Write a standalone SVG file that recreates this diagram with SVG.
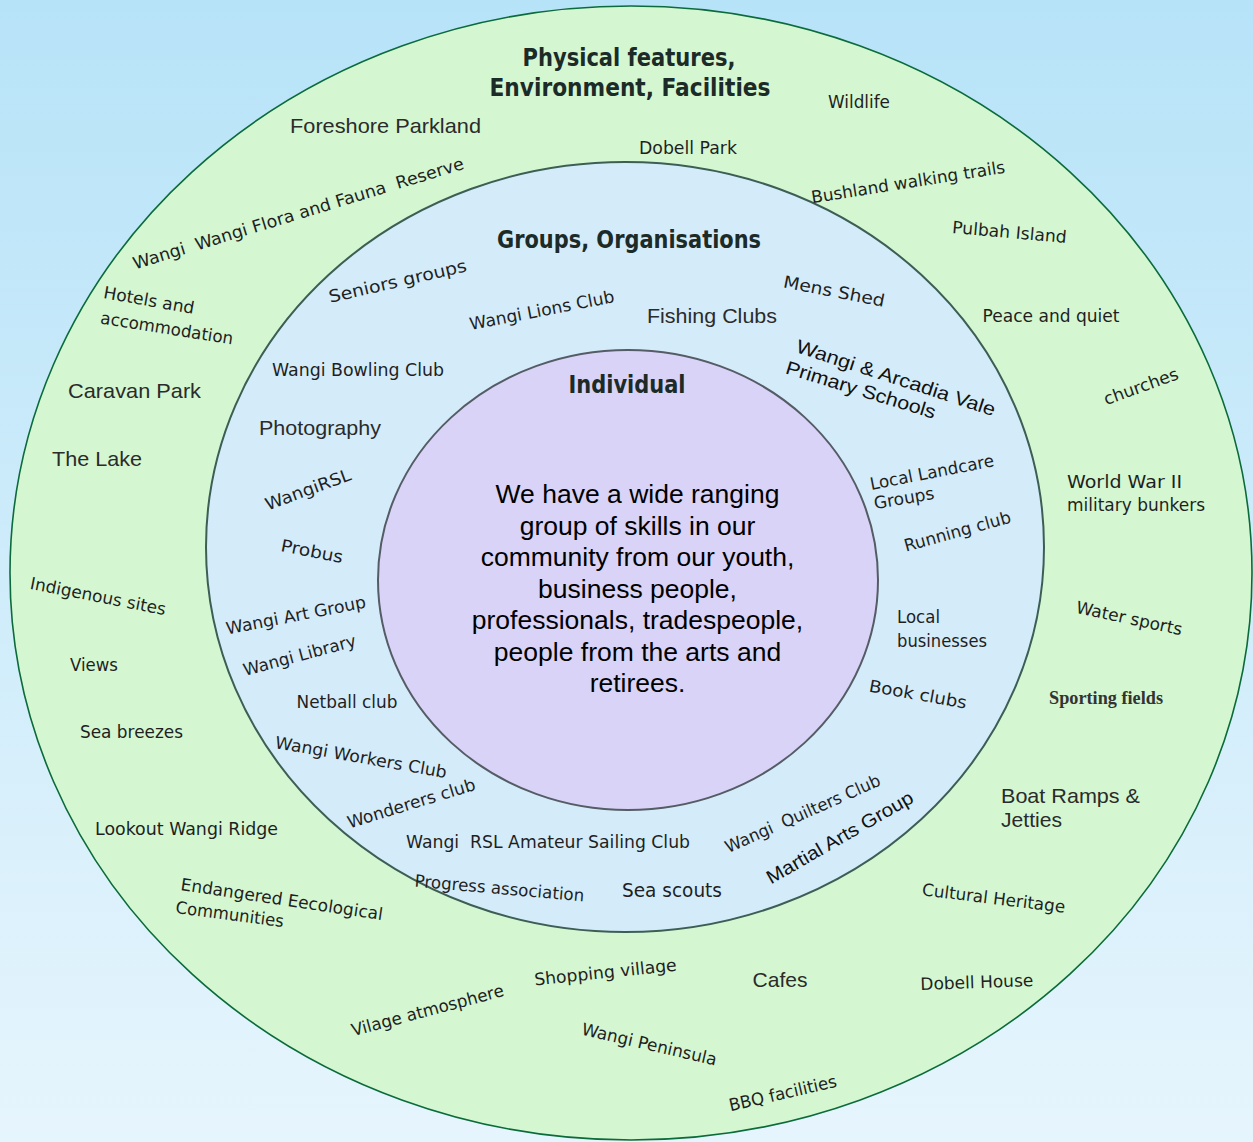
<svg xmlns="http://www.w3.org/2000/svg" width="1253" height="1142" viewBox="0 0 1253 1142">
<defs>
<linearGradient id="bg" x1="0" y1="0" x2="0" y2="1">
<stop offset="0" stop-color="#b7e3f8"/>
<stop offset="1" stop-color="#e6f5fd"/>
</linearGradient>
<style>
.t{font-family:"DejaVu Sans","Liberation Sans",sans-serif;font-size:17px;fill:#1f1f1f;text-anchor:middle}
.a{font-family:"Liberation Sans",Arial,sans-serif;font-size:21px;fill:#2b2b2b;text-anchor:middle}
.ab{font-family:"Liberation Sans",Arial,sans-serif;font-size:19px;fill:#111;text-anchor:middle}
.sf{font-family:"Liberation Serif","Times New Roman",serif;font-size:18px;font-weight:bold;fill:#333;text-anchor:middle}
.h{font-family:"DejaVu Sans","Liberation Sans",sans-serif;font-size:24px;font-weight:bold;fill:#1c2b28;text-anchor:middle}
.b{font-family:"Liberation Sans",Arial,sans-serif;font-size:26.5px;fill:#000;text-anchor:middle}
text.s{text-anchor:start}
</style>
</defs>
<rect width="1253" height="1142" fill="url(#bg)"/>

<g id="ring-physical">
<ellipse cx="631" cy="573" rx="621" ry="567" fill="#d4f7d1" stroke="#0b6b3a" stroke-width="1.6"/>
</g>
<g id="ring-groups">
<ellipse cx="625" cy="547" rx="419" ry="385" fill="#d4ecfa" stroke="#3d5e55" stroke-width="2"/>
</g>
<g id="ring-individual">
<ellipse cx="628" cy="580" rx="250" ry="230" fill="#d8d3f7" stroke="#555c66" stroke-width="2"/>
</g>

<g id="labels-physical">
<text id="h-physical1" class="h" x="629" y="66" textLength="213" lengthAdjust="spacingAndGlyphs">Physical features,</text>
<text id="h-physical2" class="h" x="630" y="96" textLength="281" lengthAdjust="spacingAndGlyphs">Environment, Facilities</text>
<text class="a" x="385.5" y="133" textLength="191" lengthAdjust="spacingAndGlyphs">Foreshore Parkland</text>
<text class="t" x="859" y="108" textLength="62" lengthAdjust="spacingAndGlyphs">Wildlife</text>
<text class="t" x="688" y="154" textLength="98" lengthAdjust="spacingAndGlyphs">Dobell Park</text>
<text class="t" x="300" y="219" transform="rotate(-17 300 219)" textLength="345" lengthAdjust="spacingAndGlyphs" xml:space="preserve">Wangi  Wangi Flora and Fauna  Reserve</text>
<text class="t" x="909" y="188" transform="rotate(-9 909 188)" textLength="196" lengthAdjust="spacingAndGlyphs">Bushland walking trails</text>
<text class="t" x="1009" y="238" transform="rotate(5 1009 238)" textLength="115" lengthAdjust="spacingAndGlyphs">Pulbah Island</text>
<text class="t" x="148" y="306" transform="rotate(10 148 306)" textLength="92" lengthAdjust="spacingAndGlyphs">Hotels and</text>
<text class="t" x="166" y="334" transform="rotate(9 166 334)" textLength="134" lengthAdjust="spacingAndGlyphs">accommodation</text>
<text class="t" x="1051" y="322" textLength="137" lengthAdjust="spacingAndGlyphs">Peace and quiet</text>
<text class="t" x="1143" y="392" transform="rotate(-20 1143 392)" textLength="78" lengthAdjust="spacingAndGlyphs">churches</text>
<text class="a" x="134.5" y="398" textLength="133" lengthAdjust="spacingAndGlyphs">Caravan Park</text>
<text class="a" x="97" y="466" textLength="90" lengthAdjust="spacingAndGlyphs">The Lake</text>
<text class="t s" x="1067" y="488" textLength="115" lengthAdjust="spacingAndGlyphs">World War II</text>
<text class="t s" x="1067" y="511" textLength="138" lengthAdjust="spacingAndGlyphs">military bunkers</text>
<text class="t" x="97" y="602" transform="rotate(11 97 602)" textLength="138" lengthAdjust="spacingAndGlyphs">Indigenous sites</text>
<text class="t" x="1128" y="624" transform="rotate(12 1128 624)" textLength="108" lengthAdjust="spacingAndGlyphs">Water sports</text>
<text class="t" x="94" y="671" textLength="48" lengthAdjust="spacingAndGlyphs">Views</text>
<text class="sf" x="1106" y="704" textLength="114" lengthAdjust="spacingAndGlyphs">Sporting fields</text>
<text class="t" x="131.5" y="738" textLength="103" lengthAdjust="spacingAndGlyphs">Sea breezes</text>
<text class="a s" x="1001" y="803" textLength="139" lengthAdjust="spacingAndGlyphs">Boat Ramps &amp;</text>
<text class="a s" x="1001" y="827" textLength="61" lengthAdjust="spacingAndGlyphs">Jetties</text>
<text class="t" x="186.5" y="835" textLength="183" lengthAdjust="spacingAndGlyphs">Lookout Wangi Ridge</text>
<text class="t" x="281" y="905" transform="rotate(8.5 281 905)" textLength="204" lengthAdjust="spacingAndGlyphs">Endangered Eecological</text>
<text class="t" x="229" y="920" transform="rotate(7.5 229 920)" textLength="109" lengthAdjust="spacingAndGlyphs">Communities</text>
<text class="t" x="993" y="904" transform="rotate(7 993 904)" textLength="144" lengthAdjust="spacingAndGlyphs">Cultural Heritage</text>
<text class="t" x="977" y="988" transform="rotate(-2 977 988)" textLength="113" lengthAdjust="spacingAndGlyphs">Dobell House</text>
<text class="a" x="780" y="987" textLength="55" lengthAdjust="spacingAndGlyphs">Cafes</text>
<text class="t" x="606" y="978" transform="rotate(-6 606 978)" textLength="143" lengthAdjust="spacingAndGlyphs">Shopping village</text>
<text class="t" x="429" y="1016" transform="rotate(-15 429 1016)" textLength="157" lengthAdjust="spacingAndGlyphs">Vilage atmosphere</text>
<text class="t" x="648" y="1050" transform="rotate(13 648 1050)" textLength="138" lengthAdjust="spacingAndGlyphs">Wangi Peninsula</text>
<text class="t" x="784" y="1099" transform="rotate(-13 784 1099)" textLength="110" lengthAdjust="spacingAndGlyphs">BBQ facilities</text>
</g>

<g id="labels-groups">
<text id="h-groups" class="h" x="629" y="248" textLength="264" lengthAdjust="spacingAndGlyphs">Groups, Organisations</text>
<text class="t" x="399" y="287" transform="rotate(-13 399 287)" textLength="141" lengthAdjust="spacingAndGlyphs">Seniors groups</text>
<text class="t" x="543" y="316" transform="rotate(-11 543 316)" textLength="147" lengthAdjust="spacingAndGlyphs">Wangi Lions Club</text>
<text class="a" x="712" y="323" textLength="130" lengthAdjust="spacingAndGlyphs">Fishing Clubs</text>
<text class="t" x="833" y="297" transform="rotate(11 833 297)" textLength="103" lengthAdjust="spacingAndGlyphs">Mens Shed</text>
<text class="ab" x="894" y="384" transform="rotate(18 894 384)" textLength="208" lengthAdjust="spacingAndGlyphs">Wangi &amp; Arcadia Vale</text>
<text class="ab" x="859" y="396" transform="rotate(17 859 396)" textLength="156" lengthAdjust="spacingAndGlyphs">Primary Schools</text>
<text class="t" x="358" y="376" textLength="172" lengthAdjust="spacingAndGlyphs">Wangi Bowling Club</text>
<text class="a" x="320" y="435" textLength="122" lengthAdjust="spacingAndGlyphs">Photography</text>
<text class="t" x="310" y="495" transform="rotate(-20 310 495)" textLength="90" lengthAdjust="spacingAndGlyphs">WangiRSL</text>
<text class="t" x="933" y="478" transform="rotate(-11 933 478)" textLength="126" lengthAdjust="spacingAndGlyphs">Local Landcare</text>
<text class="t" x="905" y="504" transform="rotate(-10 905 504)" textLength="61" lengthAdjust="spacingAndGlyphs">Groups</text>
<text class="t" x="959" y="537" transform="rotate(-15.5 959 537)" textLength="110" lengthAdjust="spacingAndGlyphs">Running club</text>
<text class="t" x="311" y="557" transform="rotate(11 311 557)" textLength="63" lengthAdjust="spacingAndGlyphs">Probus</text>
<text class="t" x="297" y="621" transform="rotate(-11 297 621)" textLength="142" lengthAdjust="spacingAndGlyphs">Wangi Art Group</text>
<text class="t" x="301" y="661" transform="rotate(-15 301 661)" textLength="116" lengthAdjust="spacingAndGlyphs">Wangi Library</text>
<text class="t s" x="897" y="623" textLength="43" lengthAdjust="spacingAndGlyphs">Local</text>
<text class="t s" x="897" y="647" textLength="90" lengthAdjust="spacingAndGlyphs">businesses</text>
<text class="t" x="917" y="700" transform="rotate(10 917 700)" textLength="99" lengthAdjust="spacingAndGlyphs">Book clubs</text>
<text class="t" x="347" y="708" textLength="101" lengthAdjust="spacingAndGlyphs">Netball club</text>
<text class="t" x="360" y="763" transform="rotate(10 360 763)" textLength="174" lengthAdjust="spacingAndGlyphs">Wangi Workers Club</text>
<text class="t" x="413" y="809" transform="rotate(-17 413 809)" textLength="133" lengthAdjust="spacingAndGlyphs">Wonderers club</text>
<text class="t" x="548" y="848" textLength="284" lengthAdjust="spacingAndGlyphs" xml:space="preserve">Wangi  RSL Amateur Sailing Club</text>
<text class="t" x="805" y="819" transform="rotate(-24 805 819)" textLength="168" lengthAdjust="spacingAndGlyphs" xml:space="preserve">Wangi  Quilters Club</text>
<text class="ab" x="843" y="843" transform="rotate(-30 843 843)" textLength="166" lengthAdjust="spacingAndGlyphs">Martial Arts Group</text>
<text class="t" x="499" y="894" transform="rotate(5 499 894)" textLength="170" lengthAdjust="spacingAndGlyphs">Progress association</text>
<text class="t" x="672" y="897" style="font-size:19px" textLength="100" lengthAdjust="spacingAndGlyphs">Sea scouts</text>
</g>

<g id="labels-individual">
<text id="h-individual" class="h" x="627" y="393" textLength="117" lengthAdjust="spacingAndGlyphs">Individual</text>
<text class="b" x="637.5" y="503">We have a wide ranging</text>
<text class="b" x="637.5" y="534.5">group of skills in our</text>
<text class="b" x="637.5" y="566">community from our youth,</text>
<text class="b" x="637.5" y="597.5">business people,</text>
<text class="b" x="637.5" y="629">professionals, tradespeople,</text>
<text class="b" x="637.5" y="660.5">people from the arts and</text>
<text class="b" x="637.5" y="692">retirees.</text>
</g>
</svg>
